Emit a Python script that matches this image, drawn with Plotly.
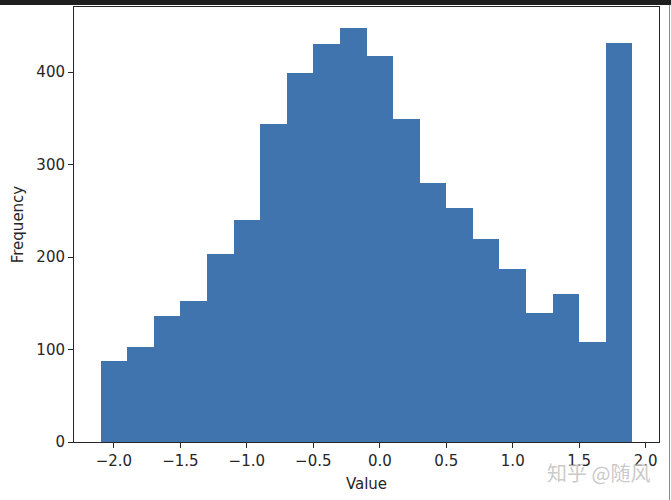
import plotly.graph_objects as go

bin_centers = [-2.0, -1.8, -1.6, -1.4, -1.2, -1.0, -0.8, -0.6, -0.4, -0.2,
               0.0, 0.2, 0.4, 0.6, 0.8, 1.0, 1.2, 1.4, 1.6, 1.8]
counts = [88, 103, 136, 152, 203, 240, 344, 399, 430, 448,
          417, 349, 280, 253, 220, 187, 139, 160, 108, 432]
x_ticks = [-2.0, -1.5, -1.0, -0.5, 0.0, 0.5, 1.0, 1.5, 2.0]
x_tick_text = ["\u22122.0", "\u22121.5", "\u22121.0", "\u22120.5", "0.0", "0.5", "1.0", "1.5", "2.0"]
y_ticks = [0, 100, 200, 300, 400]

font = dict(family="DejaVu Sans", size=15, color="#262626")

fig = go.Figure(go.Bar(
    x=bin_centers, y=counts, width=0.2,
    marker=dict(color="#3f74af", line=dict(width=0)),
))

axis_common = dict(
    showgrid=False, zeroline=False, showline=True, linecolor="#262626",
    linewidth=1, mirror=True, ticks="outside", ticklen=5, tickwidth=1,
    tickcolor="#262626", tickfont=font, automargin=False,
)

fig.update_layout(
    width=671, height=500,
    margin=dict(l=74, r=12, t=7, b=58, autoexpand=False),
    paper_bgcolor="white", plot_bgcolor="white",
    showlegend=False, bargap=0,
    xaxis=dict(range=[-2.3, 2.1], tickvals=x_ticks, ticktext=x_tick_text,
               title=dict(text="Value", font=font, standoff=9), **axis_common),
    yaxis=dict(range=[0, 470.4], tickvals=y_ticks,
               title=dict(text="Frequency", font=font, standoff=9), **axis_common),
    annotations=[dict(
        text="知乎 @随风", xref="paper", yref="paper", x=0.988, y=-0.071,
        xanchor="right", yanchor="middle", showarrow=False,
        font=dict(family="Noto Sans CJK SC", size=20, color="rgba(195,195,195,0.9)"),
    )],
    shapes=[
        dict(type="rect", xref="paper", yref="paper", x0=-0.2, x1=1.1,
             y0=1.0046, y1=1.0161, fillcolor="#1e1e1e", line=dict(width=0), layer="above"),
        dict(type="line", xref="paper", yref="paper", x0=1.018, x1=1.018,
             y0=-0.14, y1=1.005, line=dict(color="#8a8a8a", width=1), layer="above"),
    ],
)

fig.write_html("out.html", config={"displayModeBar": False},
               post_script="document.body.style.margin='0';")
